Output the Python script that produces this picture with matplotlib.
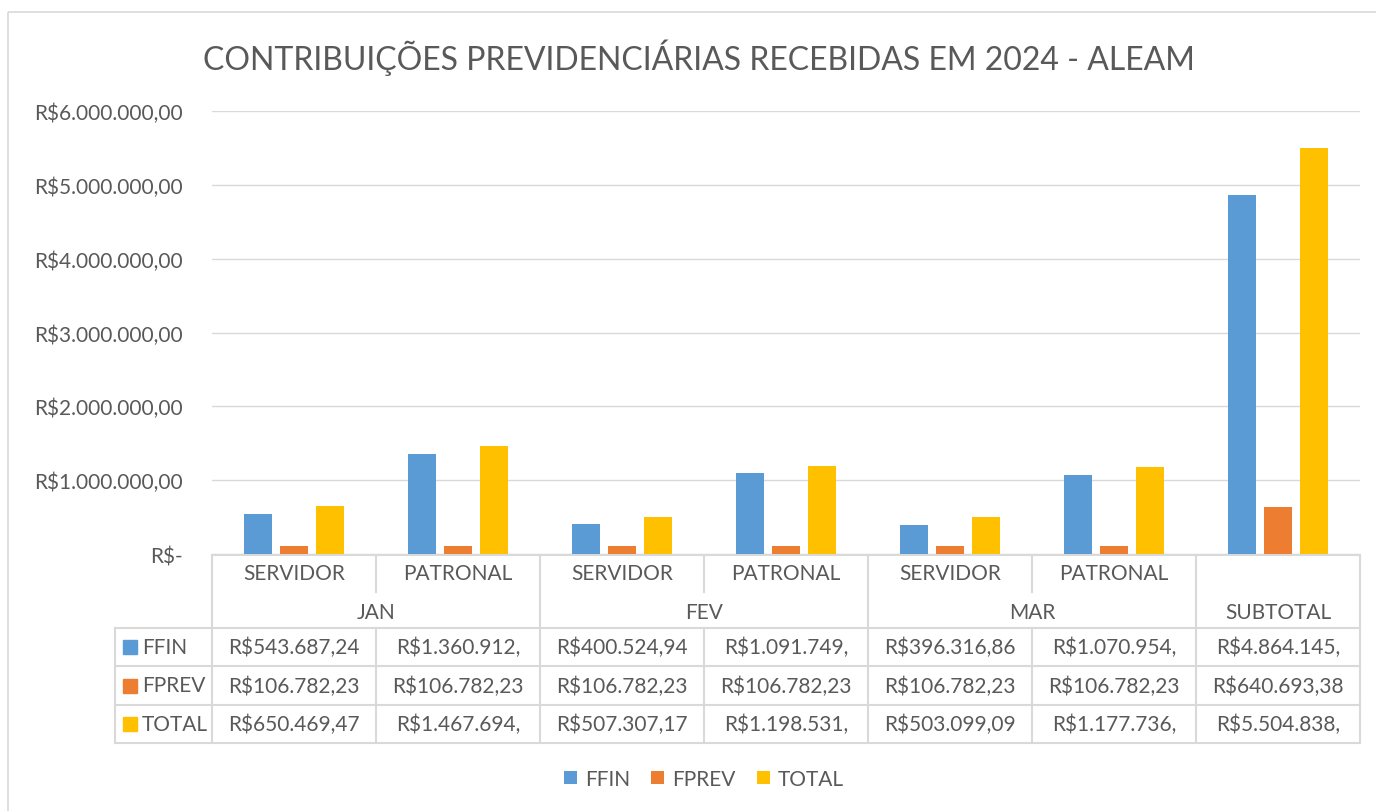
import matplotlib
matplotlib.use("Agg")
import matplotlib.pyplot as plt
import matplotlib.transforms as mtransforms
from matplotlib.patches import Rectangle

plt.rcParams["font.family"] = ["Lato", "DejaVu Sans"]

# data
categories = ["SERVIDOR", "PATRONAL", "SERVIDOR", "PATRONAL", "SERVIDOR", "PATRONAL", ""]
months = ["JAN", "FEV", "MAR", "SUBTOTAL"]
month_span = [(0, 1), (2, 3), (4, 5), (6, 6)]
series = ["FFIN", "FPREV", "TOTAL"]
ffin = [543687.24, 1360912.0, 400524.94, 1091749.0, 396316.86, 1070954.0, 4864145.0]
fprev = [106782.23, 106782.23, 106782.23, 106782.23, 106782.23, 106782.23, 640693.38]
total = [650469.47, 1467694.0, 507307.17, 1198531.0, 503099.09, 1177736.0, 5504838.0]
ffin_lbl = ["R$543.687,24", "R$1.360.912,", "R$400.524,94", "R$1.091.749,",
            "R$396.316,86", "R$1.070.954,", "R$4.864.145,"]
fprev_lbl = ["R$106.782,23"] * 6 + ["R$640.693,38"]
total_lbl = ["R$650.469,47", "R$1.467.694,", "R$507.307,17", "R$1.198.531,",
             "R$503.099,09", "R$1.177.736,", "R$5.504.838,"]
yticks = [0, 1e6, 2e6, 3e6, 4e6, 5e6, 6e6]
ytick_lbl = ["R$-", "R$1.000.000,00", "R$2.000.000,00", "R$3.000.000,00",
             "R$4.000.000,00", "R$5.000.000,00", "R$6.000.000,00"]

colors = ["#5B9BD5", "#ED7D31", "#FFC000"]
TXT = "#595959"
GRID = "#D9D9D9"
FS = 15

W, H = 1376, 812
fig = plt.figure(figsize=(W / 100, H / 100), dpi=100)

# overlay axes in pixel coords (y down)
ov = fig.add_axes([0, 0, 1, 1], zorder=0)
ov.set_xlim(0, W)
ov.set_ylim(H, 0)
ov.axis("off")

L, R, T, B = 212, 1360, 112, 555
ax = fig.add_axes([L / W, (H - B) / H, (R - L) / W, (B - T) / H], zorder=1)
ax.patch.set_alpha(0)

n = len(categories)
x = list(range(n))
bw = 0.174
off = 0.22
bars = []
for k, (vals, c) in enumerate(zip([ffin, fprev, total], colors)):
    bars.append(ax.bar([i + (k - 1) * off for i in x], vals, width=bw, color=c, zorder=3))

ax.set_xlim(-0.5, n - 0.5)
ax.set_ylim(0, 6e6)
ax.set_yticks(yticks)
ax.set_yticklabels(ytick_lbl)
ax.tick_params(axis="y", length=0, pad=21, labelsize=FS, labelcolor=TXT)
ax.set_xticks([])
for s in ax.spines.values():
    s.set_visible(False)
ax.grid(axis="y", color=GRID, linewidth=1.0, zorder=0)

# title
ov.text(699, 58, "CONTRIBUIÇÕES PREVIDENCIÁRIAS RECEBIDAS EM 2024 - ALEAM",
        ha="center", va="center", fontsize=23, color=TXT)

# outer border
ov.add_patch(Rectangle((8, 13), W, H, fill=False, ec=GRID, lw=1.2, clip_on=False))

# data table, x in category units, y in pixels
tr = mtransforms.blended_transform_factory(ax.transData, ov.transData)
r_top, r_mid, r_hdr = 556, 593, 629
rows = [629, 667, 706, 744]
lw_t = 1.5

group_edges = [-0.5] + [b + 0.5 for a, b in month_span]
sub_edges = [a + 0.5 for a, b in month_span if b > a]
for e in group_edges:
    ov.plot([e, e], [r_top, rows[-1]], color=GRID, lw=lw_t, transform=tr, clip_on=False)
for e in sub_edges:
    ov.plot([e, e], [r_top, r_mid], color=GRID, lw=lw_t, transform=tr, clip_on=False)
    ov.plot([e, e], [r_hdr, rows[-1]], color=GRID, lw=lw_t, transform=tr, clip_on=False)
ov.plot([-0.5, n - 0.5], [r_top, r_top], color=GRID, lw=lw_t, transform=tr, clip_on=False)
for y in rows:
    ov.plot([115, R], [y, y], color=GRID, lw=lw_t, clip_on=False)
ov.plot([115, 115], [rows[0], rows[-1]], color=GRID, lw=lw_t, clip_on=False)

for i, c in enumerate(categories):
    ov.text(i, (r_top + r_mid) / 2, c, ha="center", va="center", fontsize=FS,
            color=TXT, transform=tr)
for m, (a, b) in zip(months, month_span):
    ov.text((a + b) / 2, (r_mid + r_hdr) / 2 + 2, m, ha="center", va="center",
            fontsize=FS, color=TXT, transform=tr)

for r, (name, lbls, c) in enumerate(zip(series, [ffin_lbl, fprev_lbl, total_lbl], colors)):
    yc = (rows[r] + rows[r + 1]) / 2
    ov.add_patch(Rectangle((123, yc - 7), 14, 14, color=c))
    ov.text(142, yc, name, ha="left", va="center", fontsize=FS, color=TXT)
    for i, s in enumerate(lbls):
        ov.text(i, yc, s, ha="center", va="center", fontsize=FS, color=TXT, transform=tr)

# legend
ax.legend([b[0] for b in bars], series, ncol=3, frameon=False, loc="center",
          bbox_to_anchor=(704 / W, (H - 780) / H), bbox_transform=fig.transFigure,
          handlelength=0.62, handleheight=0.62, handletextpad=0.4, columnspacing=1.0,
          fontsize=FS, labelcolor=TXT)

fig.savefig("out.png", dpi=100, facecolor="white")
